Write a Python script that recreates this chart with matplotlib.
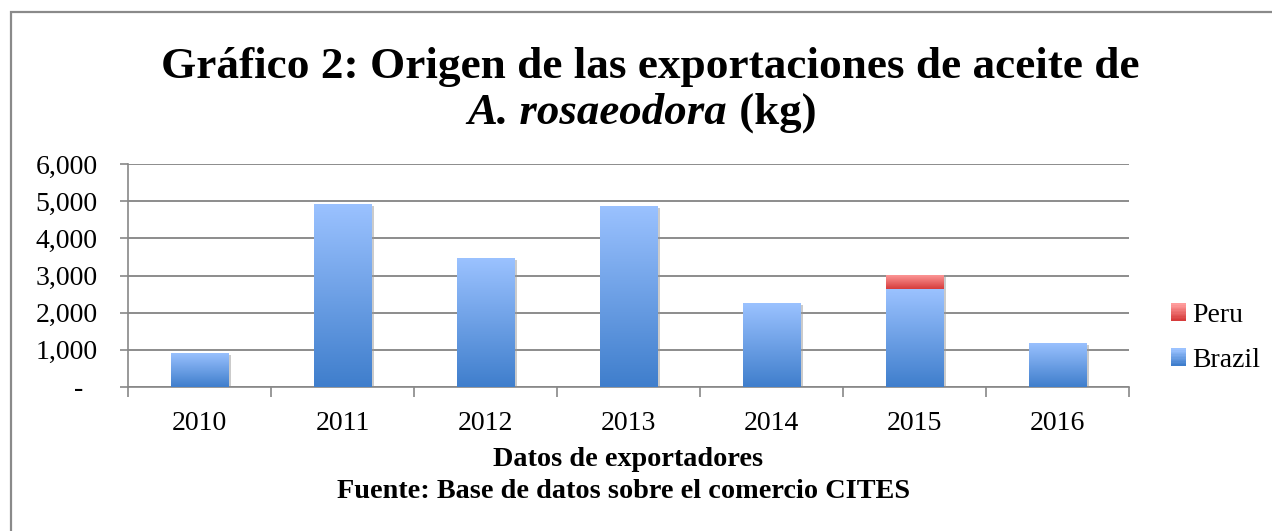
import numpy as np
import matplotlib as mpl
import matplotlib.pyplot as plt
import matplotlib.patheffects as pe
from matplotlib.colors import LinearSegmentedColormap
from matplotlib.legend_handler import HandlerBase
from matplotlib.patches import Rectangle

# chart data (kg)
years = ['2010', '2011', '2012', '2013', '2014', '2015', '2016']
brazil = [920, 4920, 3470, 4870, 2260, 2630, 1190]
peru = [0, 0, 0, 0, 0, 380, 0]
y_ticks = [0, 1000, 2000, 3000, 4000, 5000, 6000]
y_labels = ['-  ', '1,000', '2,000', '3,000', '4,000', '5,000', '6,000']

BLUE = ('#3f7ecc', '#9bc2ff')   # bottom, top
RED = ('#d63c3c', '#ff9c9c')

mpl.rcParams['font.family'] = 'Liberation Serif'
mpl.rcParams['font.size'] = 20


def gradient_fill(ax, bars, colors):
    cmap = LinearSegmentedColormap.from_list('g', list(colors))
    grad = np.linspace(0, 1, 256).reshape(-1, 1)
    for b in bars:
        if b.get_height() <= 0:
            b.set_visible(False)
            continue
        x0, y0 = b.get_x(), b.get_y()
        im = ax.imshow(grad, extent=(x0, x0 + b.get_width(), y0, y0 + b.get_height()),
                       origin='lower', aspect='auto', cmap=cmap, zorder=3)
        im.set_clip_path(b)


class GradHandler(HandlerBase):
    def __init__(self, colors):
        super().__init__()
        self.colors = colors

    def create_artists(self, legend, orig_handle, xdescent, ydescent, width, height,
                       fontsize, trans):
        cmap = LinearSegmentedColormap.from_list('g', list(self.colors))
        n = 12
        arts = []
        for i in range(n):
            r = Rectangle((-xdescent, -ydescent + height * i / n), width, height / n + 0.3,
                          facecolor=cmap(i / (n - 1)), edgecolor='none', transform=trans)
            arts.append(r)
        return arts


fig = plt.figure(figsize=(12.72, 5.31), dpi=100)
ax = fig.add_axes([128 / 1272, 144 / 531, 1001 / 1272, 223 / 531])

x = np.arange(len(years))
shadow = [pe.SimplePatchShadow(offset=(1.5, -1.5), shadow_rgbFace='#999999', alpha=0.5), pe.Normal()]
b1 = ax.bar(x, brazil, width=0.405, color=BLUE[0], zorder=2, label='Brazil')
b2 = ax.bar(x, peru, width=0.405, bottom=brazil, color=RED[0], zorder=2, label='Peru')
for b in list(b1) + list(b2):
    b.set_path_effects(shadow)
gradient_fill(ax, b1, BLUE)
gradient_fill(ax, b2, RED)

ax.set_xlim(-0.5, len(years) - 0.5)
ax.set_ylim(0, 6000)
ax.set_yticks(y_ticks)
ax.set_yticklabels(y_labels)
ax.set_xticks(np.arange(len(years) + 1) - 0.5)
ax.set_xticklabels([])
ax.set_xticks(x, minor=True)
ax.set_xticklabels(years, minor=True)
ax.tick_params(axis='x', which='major', length=7, width=1.2, color='#888888')
ax.tick_params(axis='x', which='minor', length=0, pad=17)
ax.tick_params(axis='y', length=6, width=1.2, color='#888888', pad=16)

ax.set_axisbelow(True)
ax.grid(axis='y', color='#8c8c8c', linewidth=1.4)
for s in ['top', 'right']:
    ax.spines[s].set_visible(False)
ax.spines['left'].set_color('#888888')
ax.spines['bottom'].set_color('#888888')
ax.spines['left'].set_linewidth(1.2)
ax.spines['bottom'].set_linewidth(1.2)

ax.legend([b2, b1], ['Peru', 'Brazil'],
          handler_map={b2: GradHandler(RED), b1: GradHandler(BLUE)},
          loc='center left', bbox_to_anchor=(1171 / 1272, 1 - 338 / 531),
          bbox_transform=fig.transFigure, frameon=False, borderpad=0, borderaxespad=0,
          handlelength=0.55, handleheight=0.55, handletextpad=0.22, labelspacing=0.72)

# outer frame
fig.patches.append(Rectangle((11 / 1272, -0.1), 1.2, 1 - 12 / 531 + 0.1, transform=fig.transFigure,
                             fill=False, edgecolor='#8a8a8a', linewidth=1.6))

fig.text(650 / 1272, 1 - 78 / 531, 'Gráfico 2: Origen de las exportaciones de aceite de',
         ha='center', va='baseline', fontsize=32.6, fontweight='bold')
t1 = fig.text(642 / 1272, 1 - 124 / 531, 'A. rosaeodora', ha='right', va='baseline',
              fontsize=32.3, fontweight='bold', fontstyle='italic')
t2 = fig.text(642 / 1272, 1 - 124 / 531, ' (kg)', ha='left', va='baseline',
              fontsize=32.3, fontweight='bold')
fig.canvas.draw()
r = fig.canvas.get_renderer()
w1 = t1.get_window_extent(r).width
w2 = t2.get_window_extent(r).width
shift = (w1 - w2) / 2 / 1272
t1.set_x(642 / 1272 + shift)
t2.set_x(642 / 1272 + shift)

fig.text(628 / 1272, 1 - 460 / 531, 'Datos de exportadores', ha='center', va='center',
         fontsize=20.3, fontweight='bold')
fig.text(624 / 1272, 1 - 492 / 531, 'Fuente: Base de datos sobre el comercio CITES', ha='center',
         va='center', fontsize=20.3, fontweight='bold')

plt.savefig('out.png', dpi=100)
